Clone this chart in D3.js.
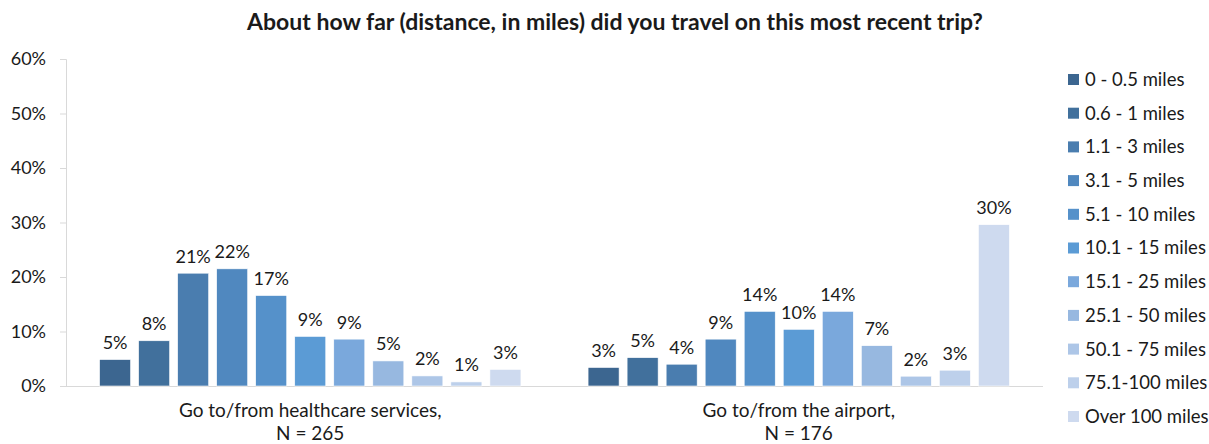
<!DOCTYPE html>
<html><head><meta charset="utf-8">
<script src="https://cdn.jsdelivr.net/npm/d3@7"></script>
<style>body{margin:0;background:#fff}svg{display:block}text{font-family:Lato,"Open Sans",sans-serif;fill:#1a1a1a}</style>
</head><body><svg id="c" width="1209" height="444"></svg>
<script>
const title = "About how far (distance, in miles) did you travel on this most recent trip?";
const categories = ["healthcare", "airport"];
const categoryLines = [["Go to/from healthcare services,", "N = 265"], ["Go to/from the airport,", "N = 176"]];
const seriesNames = ["0 - 0.5 miles","0.6 - 1 miles","1.1 - 3 miles","3.1 - 5 miles","5.1 - 10 miles","10.1 - 15 miles","15.1 - 25 miles","25.1 - 50 miles","50.1 - 75 miles","75.1-100 miles","Over 100 miles"];
const healthcareValues = [4.85, 8.3, 20.7, 21.5, 16.6, 9.1, 8.6, 4.6, 1.85, 0.75, 3.05];
const airportValues = [3.4, 5.2, 4.0, 8.6, 13.7, 10.4, 13.7, 7.4, 1.8, 2.9, 29.6];
const seriesColors = ["#3c6690","#41709c","#4a7daf","#5088bf","#5591ca","#5b9bd5","#7aa8dc","#97b8e0","#adc6e7","#bdd0eb","#cedaef"];
const yTicks = [0, 10, 20, 30, 40, 50, 60];

const svg = d3.select("#c");
const x0 = d3.scaleBand().domain(categories).range([66, 1043]);
const x1 = d3.scaleBand().domain(seriesNames).range([0, x0.bandwidth()]).paddingInner(0.205).paddingOuter(0.86);
const y = d3.scaleLinear().domain([0, 60]).range([386, 59]);
const color = d3.scaleOrdinal().domain(seriesNames).range(seriesColors);
const valuesByCat = {healthcare: healthcareValues, airport: airportValues};

svg.append("text").attr("x", 615).attr("y", 30).attr("text-anchor","middle")
  .style("font-weight","bold").style("font-size","23px").text(title);

// y axis
const yAxis = svg.append("g").attr("transform","translate(66,0)")
  .call(d3.axisLeft(y).tickValues(yTicks).tickFormat(d => d + "%").tickSizeOuter(0).tickSize(6).tickPadding(14));
yAxis.select(".domain").attr("stroke","#d9d9d9");
yAxis.selectAll(".tick line").attr("stroke","#d9d9d9");
yAxis.selectAll(".tick text").style("font-size","18px").attr("fill","#1a1a1a").style("font-family","Lato,'Open Sans',sans-serif");

// baseline
svg.append("line").attr("x1",60).attr("x2",1043).attr("y1",y(0)+0.5).attr("y2",y(0)+0.5).attr("stroke","#d9d9d9");

// bars
const groups = svg.selectAll("g.cat").data(categories).join("g").attr("class","cat")
  .attr("transform", d => `translate(${x0(d)},0)`);
groups.selectAll("rect").data(c => valuesByCat[c].map((v,i) => ({s: seriesNames[i], v}))).join("rect")
  .attr("x", d => x1(d.s)).attr("width", x1.bandwidth())
  .attr("y", d => y(d.v)).attr("height", d => y(0) - y(d.v))
  .attr("fill", d => color(d.s)).attr("stroke","#fff").attr("stroke-width",0.6);
groups.selectAll("text.lbl").data(c => valuesByCat[c].map((v,i) => ({s: seriesNames[i], v}))).join("text")
  .attr("class","lbl").attr("x", d => x1(d.s) + x1.bandwidth()/2).attr("y", d => y(d.v) - 10.5)
  .attr("text-anchor","middle").style("font-size","18px").text(d => Math.round(d.v) + "%");

// category labels
categories.forEach((c, i) => {
  categoryLines[i].forEach((line, j) => {
    svg.append("text").attr("x", x0(c) + x0.bandwidth()/2).attr("y", 417 + j*22.5)
      .attr("text-anchor","middle").style("font-size","19px").text(line);
  });
});

// legend
const leg = svg.selectAll("g.leg").data(seriesNames).join("g").attr("class","leg")
  .attr("transform", (d,i) => `translate(1068,${79.5 + i*33.7})`);
leg.append("rect").attr("x",0).attr("y",-5.5).attr("width",11).attr("height",11).attr("fill", d => color(d));
leg.append("text").attr("x",17).attr("y",0).attr("dy","0.35em").style("font-size","18.5px").text(d => d);
</script></body></html>
